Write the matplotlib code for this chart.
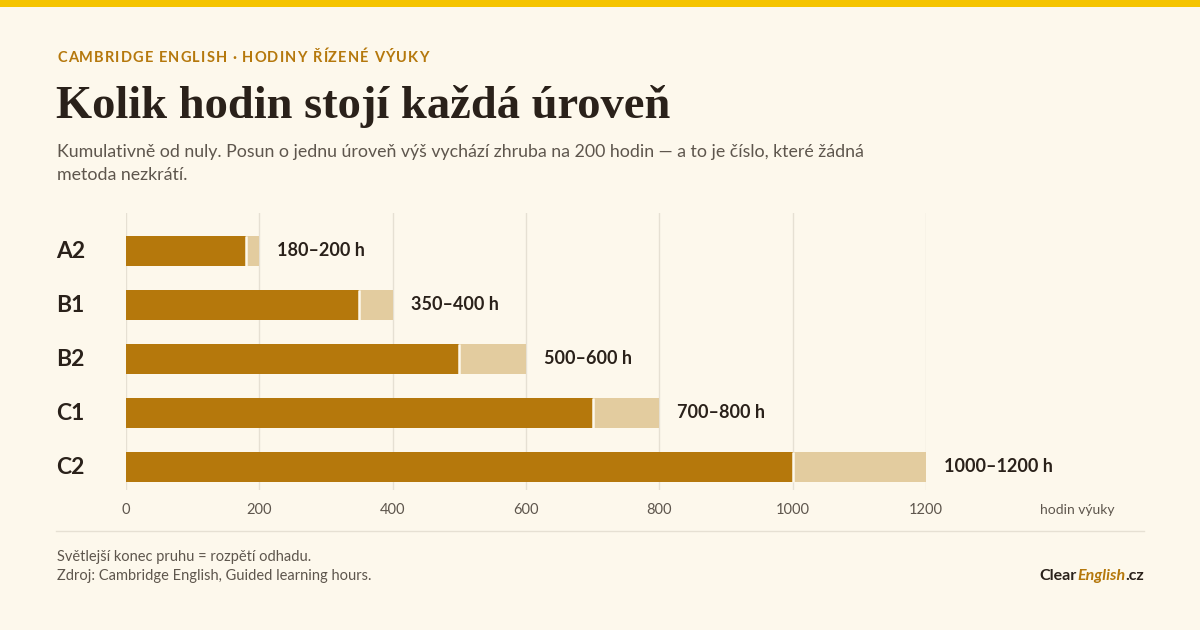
import matplotlib
matplotlib.use("Agg")
import matplotlib.pyplot as plt
from matplotlib.patches import Rectangle
from matplotlib.text import Annotation

levels = ["A2", "B1", "B2", "C1", "C2"]
hours_low = [180, 350, 500, 700, 1000]
hours_high = [200, 400, 600, 800, 1200]
value_labels = ["180–200 h", "350–400 h", "500–600 h", "700–800 h", "1000–1200 h"]
xticks = [0, 200, 400, 600, 800, 1000, 1200]

BG = "#FDF8EC"
DARK = "#B5780C"
LIGHT = "#E3CC9F"
TEXT = "#2A211A"
GREY = "#5E564D"
GRID = "#E6E0D3"
BODY = ["Lato", "DejaVu Sans"]

W, H = 1200, 630
fig = plt.figure(figsize=(12, 6.3), dpi=100, facecolor=BG)

def fx(px):
    return px / W

def fy(py):
    return 1 - py / H

# top band
fig.patches.append(Rectangle((0, fy(7)), 1, 7 / H, transform=fig.transFigure,
                             facecolor="#F5C400", edgecolor="none"))

# letter-spaced kicker
kicker = "CAMBRIDGE ENGLISH · HODINY ŘÍZENÉ VÝUKY"
prev = fig.text(fx(57), fy(58), kicker[0], family=BODY, fontsize=10.5, fontweight="bold",
                color=DARK, va="center", ha="left")
for ch in kicker[1:]:
    t = Annotation(ch, xy=(1, 0.5), xycoords=prev, xytext=(1.15, 0),
                   textcoords="offset pixels", va="center", ha="left",
                   family=BODY, fontsize=10.5, fontweight="bold", color=DARK,
                   annotation_clip=False)
    fig.add_artist(t)
    prev = t

fig.text(fx(56), fy(106), "Kolik hodin stojí každá úroveň", family=["Liberation Serif", "DejaVu Serif"],
         fontsize=33.5, fontweight="bold", color=TEXT, va="center", ha="left")
fig.text(fx(57), fy(152), "Kumulativně od nuly. Posun o jednu úroveň výš vychází zhruba na 200 hodin — a to je číslo, které žádná",
         family=BODY, fontsize=12.75, color=GREY, va="center", ha="left")
fig.text(fx(57), fy(175), "metoda nezkrátí.", family=BODY, fontsize=12.75, color=GREY,
         va="center", ha="left")

# axes: x 0..1200 -> px 126..926 ; y top 213, bottom 490
ax = fig.add_axes([fx(126), fy(490), fx(926) - fx(126), (490 - 213) / H])
ax.set_facecolor("none")
ypos = list(range(len(levels)))
bh = 30 / 54
ax.barh(ypos, hours_low, height=bh, color=DARK, linewidth=0, zorder=3)
ax.barh(ypos, [h - l for l, h in zip(hours_low, hours_high)], left=hours_low,
        height=bh, color=LIGHT, linewidth=0, zorder=3)
for y, l in zip(ypos, hours_low):
    ax.plot([l, l], [y - bh / 2, y + bh / 2], color=BG, lw=1.8, zorder=4,
            solid_capstyle="butt")
for y, h, lab in zip(ypos, hours_high, value_labels):
    ax.annotate(lab, xy=(h, y), xytext=(18, 0), textcoords="offset pixels",
                va="center", ha="left", family=BODY, fontsize=13, fontweight="bold",
                color=TEXT)
ax.set_xlim(0, 1200)
ax.set_ylim(len(levels) - 1 + 23 / 54, -38 / 54)
ax.set_xticks(xticks)
ax.set_xticklabels([str(t) for t in xticks], family=BODY, fontsize=10.5, color=GREY)
ax.tick_params(axis="x", length=0, pad=9)
ax.set_yticks([])
for s in ax.spines.values():
    s.set_visible(False)
ax.grid(axis="x", color=GRID, lw=1, zorder=0)
ax.set_axisbelow(True)
for y, lev in zip(ypos, levels):
    ax.annotate(lev, xy=(0, y), xycoords=("axes fraction", "data"),
                xytext=(fx(56), 0), textcoords=("figure fraction", "offset pixels"),
                va="center", ha="left", family=BODY, fontsize=16.5, fontweight="bold",
                color=TEXT)

fig.text(fx(1115), fy(510), "hodin výuky", family=BODY, fontsize=10, color=GREY,
         va="center", ha="right")

# separator
fig.lines.append(plt.Line2D([fx(56), fx(1144)], [fy(531), fy(531)], transform=fig.transFigure,
                            color=GRID, lw=1))

fig.text(fx(57), fy(557), "Světlejší konec pruhu = rozpětí odhadu.", family=BODY,
         fontsize=10.5, color=GREY, va="center", ha="left")
fig.text(fx(57), fy(576), "Zdroj: Cambridge English, Guided learning hours.", family=BODY,
         fontsize=10.5, color=GREY, va="center", ha="left")

t3 = fig.text(fx(1144), fy(576), ".cz", family=BODY, fontsize=11.5, fontweight="bold",
              color=TEXT, va="center", ha="right")
t2 = ax.annotate("English", xy=(0, 0.5), xycoords=t3, va="center", ha="right",
                 family=BODY, fontsize=11.5, fontweight="bold", style="italic", color=DARK,
                 annotation_clip=False)
t1 = ax.annotate("Clear", xy=(0, 0.5), xycoords=t2, va="center", ha="right",
                 family=BODY, fontsize=11.5, fontweight="bold", color=TEXT,
                 annotation_clip=False)

fig.savefig("out.png", dpi=100, facecolor=BG)
